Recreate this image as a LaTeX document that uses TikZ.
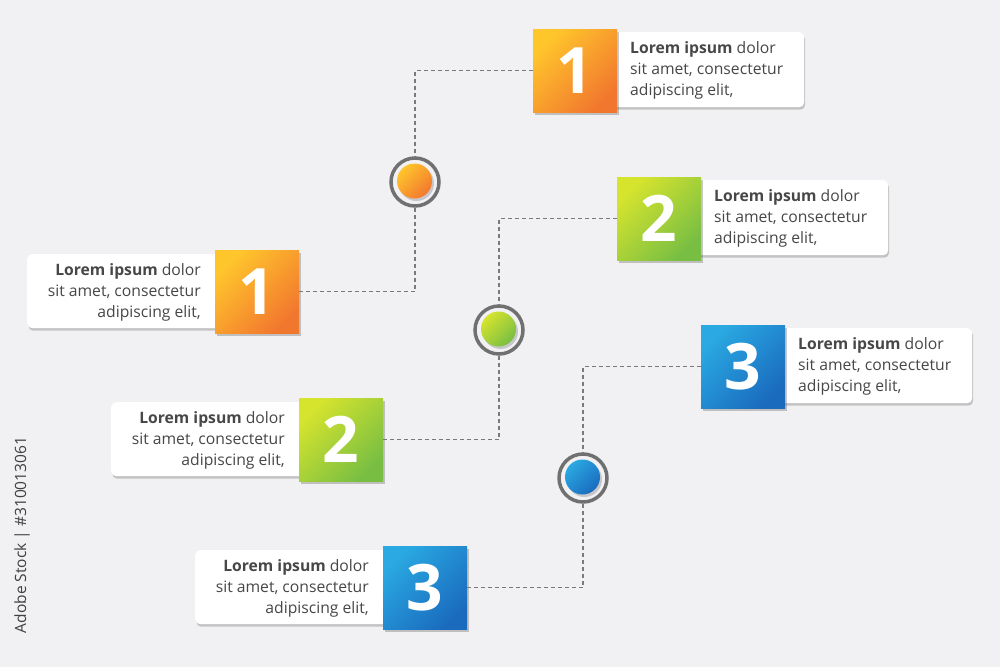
\documentclass[tikz,border=0pt]{standalone}
\usepackage{fontspec}
\setmainfont{Open Sans}
\usetikzlibrary{shadows}
\definecolor{bg}{HTML}{F1F1F3}
\definecolor{txtgray}{HTML}{474747}
\definecolor{linegray}{HTML}{7A7A7A}
\definecolor{ringgray}{HTML}{707070}
\definecolor{orA}{HTML}{FFC62C}
\definecolor{orB}{HTML}{F2772E}
\definecolor{grA}{HTML}{D6E42E}
\definecolor{grB}{HTML}{78BE43}
\definecolor{blA}{HTML}{2AA9E2}
\definecolor{blB}{HTML}{1A6BBE}
\begin{document}
\begin{tikzpicture}[x=1pt,y=-1pt,
  textbox/.style={fill=white, rounded corners=5pt, inner sep=0pt,
    drop shadow={shadow xshift=1pt, shadow yshift=-2.5pt, opacity=0.28, fill=black!70}},
  numbox/.style={minimum width=84pt, minimum height=83pt, inner sep=0pt, text=white,
    font=\fontsize{64}{64}\selectfont\bfseries,
    drop shadow={shadow xshift=2pt, shadow yshift=-3pt, opacity=0.3, fill=black!70}},
  txt/.style={text=txtgray, font=\fontsize{15.7}{21}\selectfont, inner sep=0pt},
  ring/.style={circle, draw=ringgray, line width=3.5pt, minimum size=48pt, inner sep=0pt},
  ball/.style={circle, minimum size=35pt, inner sep=0pt,
    drop shadow={shadow xshift=2pt, shadow yshift=-2.5pt, opacity=0.25, fill=black!70}},
  conn/.style={draw=linegray, line width=1.2pt, dash pattern=on 4pt off 3pt}
]
\fill[bg] (0,0) rectangle (1000,667);
\useasboundingbox (0,0) rectangle (1000,667);

\foreach \k/\n/\ca/\cb in {0/1/orA/orB, 1/2/grA/grB, 2/3/blA/blB}{
  \pgfmathsetmacro{\dx}{84*\k}
  \pgfmathsetmacro{\dy}{148*\k}
  % right block
  \node[textbox, minimum width=198pt, minimum height=75pt, anchor=north west]
    (bR\n) at (606+\dx, 32+\dy) {};
  \node[numbox, top color=\ca, bottom color=\cb, shading angle=45]
    (nR\n) at (575+\dx, 70.5+\dy) {\n};
  \node[txt, align=left, anchor=west] (tR\n) at (630+\dx, 70.5+\dy)
    {\textbf{Lorem ipsum} dolor\\sit amet, consectetur\\adipiscing elit,};
  % left block
  \node[textbox, minimum width=198pt, minimum height=74pt, anchor=north west]
    (bL\n) at (27+\dx, 254+\dy) {};
  \node[numbox, top color=\ca, bottom color=\cb, shading angle=45]
    (nL\n) at (257+\dx, 291.5+\dy) {\n};
  \node[txt, align=right, anchor=east] (tL\n) at (201+\dx, 292.5+\dy)
    {\textbf{Lorem ipsum} dolor\\sit amet, consectetur\\adipiscing elit,};
  % circle
  \node[ring] (c\n) at (415+\dx, 182+\dy) {};
  \node[ball, top color=\ca, bottom color=\cb, shading angle=45]
    (b\n) at (414.5+\dx, 181+\dy) {};
  % connectors
  \draw[conn] (nR\n.west) -| (c\n.north);
  \draw[conn] (c\n.south) |- (nL\n.east);
}

\node[rotate=90, text=txtgray!90!black, font=\fontsize{15.5}{16}\selectfont, inner sep=0pt]
  (wm) at (22,535) {Adobe Stock | \#310013061};
\end{tikzpicture}
\end{document}
